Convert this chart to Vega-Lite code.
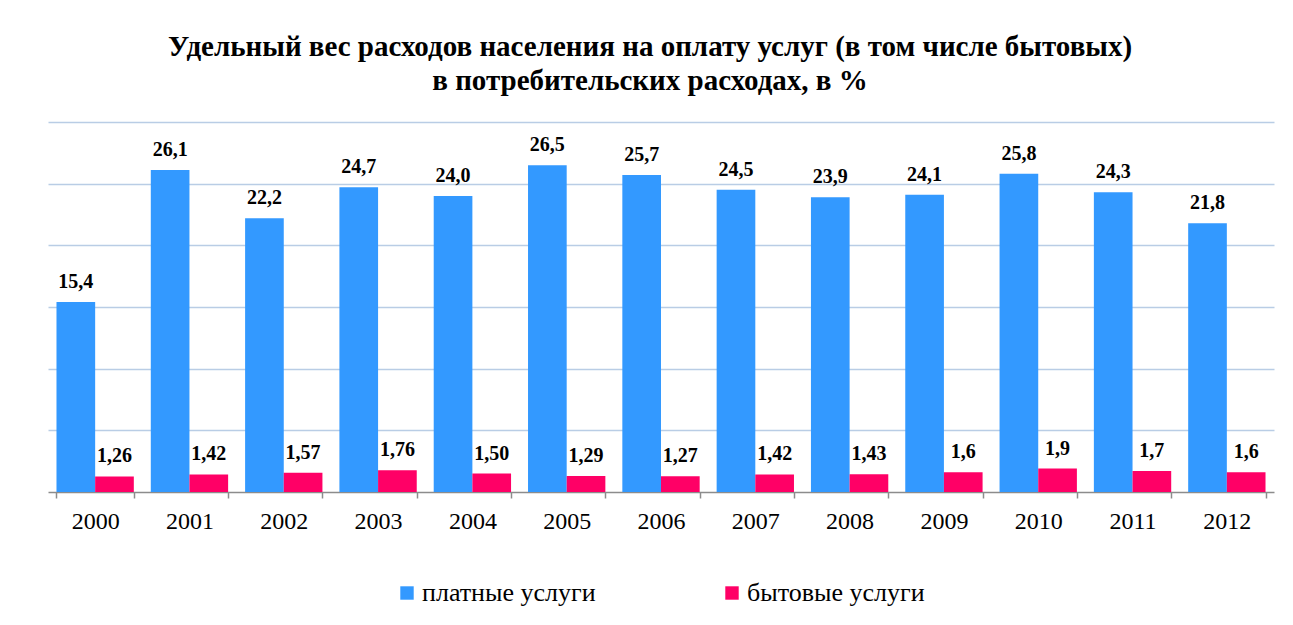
{
  "$schema": "https://vega.github.io/schema/vega-lite/v6.json",
  "width": 1226,
  "height": 370,
  "autosize": {"type": "none"},
  "padding": {"left": 48, "top": 122, "right": 19, "bottom": 133},
  "background": "white",
  "title": {
    "text": ["Удельный вес расходов населения на оплату услуг (в том числе бытовых)", "в потребительских расходах, в %"],
    "font": "Times New Roman",
    "fontSize": 29,
    "fontWeight": "bold",
    "color": "black",
    "anchor": "middle",
    "lineHeight": 34,
    "offset": 26,
    "dx": -11
  },
  "data": {
    "values": [
      {"year": "2000", "series": "платные услуги", "value": 15.4, "label": "15,4"},
      {"year": "2001", "series": "платные услуги", "value": 26.1, "label": "26,1"},
      {"year": "2002", "series": "платные услуги", "value": 22.2, "label": "22,2"},
      {"year": "2003", "series": "платные услуги", "value": 24.7, "label": "24,7"},
      {"year": "2004", "series": "платные услуги", "value": 24.0, "label": "24,0"},
      {"year": "2005", "series": "платные услуги", "value": 26.5, "label": "26,5"},
      {"year": "2006", "series": "платные услуги", "value": 25.7, "label": "25,7"},
      {"year": "2007", "series": "платные услуги", "value": 24.5, "label": "24,5"},
      {"year": "2008", "series": "платные услуги", "value": 23.9, "label": "23,9"},
      {"year": "2009", "series": "платные услуги", "value": 24.1, "label": "24,1"},
      {"year": "2010", "series": "платные услуги", "value": 25.8, "label": "25,8"},
      {"year": "2011", "series": "платные услуги", "value": 24.3, "label": "24,3"},
      {"year": "2012", "series": "платные услуги", "value": 21.8, "label": "21,8"},
      {"year": "2000", "series": "бытовые услуги", "value": 1.26, "label": "1,26"},
      {"year": "2001", "series": "бытовые услуги", "value": 1.42, "label": "1,42"},
      {"year": "2002", "series": "бытовые услуги", "value": 1.57, "label": "1,57"},
      {"year": "2003", "series": "бытовые услуги", "value": 1.76, "label": "1,76"},
      {"year": "2004", "series": "бытовые услуги", "value": 1.50, "label": "1,50"},
      {"year": "2005", "series": "бытовые услуги", "value": 1.29, "label": "1,29"},
      {"year": "2006", "series": "бытовые услуги", "value": 1.27, "label": "1,27"},
      {"year": "2007", "series": "бытовые услуги", "value": 1.42, "label": "1,42"},
      {"year": "2008", "series": "бытовые услуги", "value": 1.43, "label": "1,43"},
      {"year": "2009", "series": "бытовые услуги", "value": 1.6, "label": "1,6"},
      {"year": "2010", "series": "бытовые услуги", "value": 1.9, "label": "1,9"},
      {"year": "2011", "series": "бытовые услуги", "value": 1.7, "label": "1,7"},
      {"year": "2012", "series": "бытовые услуги", "value": 1.6, "label": "1,6"}
    ]
  },
  "encoding": {
    "x": {
      "field": "year",
      "type": "nominal",
      "scale": {"paddingInner": 0.18, "paddingOuter": 0.09},
      "axis": {
        "title": null,
        "labelAngle": 0,
        "labelFont": "Times New Roman",
        "labelFontSize": 24,
        "labelColor": "black",
        "labelPadding": 11,
        "domainColor": "#8c8c8c",
        "domainWidth": 1.5,
        "tickColor": "#8c8c8c",
        "tickWidth": 1.5,
        "tickSize": 6,
        "tickBand": "extent",
        "grid": false
      }
    },
    "xOffset": {"field": "series", "type": "nominal", "sort": ["платные услуги", "бытовые услуги"]},
    "y": {
      "field": "value",
      "type": "quantitative",
      "scale": {"domain": [0, 30]},
      "axis": {
        "title": null,
        "labels": false,
        "ticks": false,
        "domain": false,
        "values": [5, 10, 15, 20, 25, 30],
        "grid": true,
        "gridColor": "#b9cde5",
        "gridWidth": 1.5
      }
    }
  },
  "layer": [
    {
      "mark": {"type": "bar"},
      "encoding": {
        "color": {
          "field": "series",
          "type": "nominal",
          "sort": ["платные услуги", "бытовые услуги"],
          "scale": {"domain": ["платные услуги", "бытовые услуги"], "range": ["#3399ff", "#ff0066"]},
          "legend": {
            "title": null,
            "orient": "none",
            "legendX": 346,
            "legendY": 458,
            "direction": "horizontal",
            "symbolType": "square",
            "symbolSize": 180,
            "symbolStrokeWidth": 0,
            "symbolOpacity": 1,
            "labelFont": "Times New Roman",
            "labelFontSize": 26,
            "labelColor": "black",
            "labelOffset": 2,
            "labelLimit": 400,
            "columnPadding": 123
          }
        }
      }
    },
    {
      "mark": {"type": "text", "font": "Times New Roman", "fontSize": 20, "fontWeight": "bold", "color": "black", "baseline": "bottom", "dy": -10},
      "encoding": {"text": {"field": "label"}}
    }
  ],
  "config": {"view": {"stroke": null}}
}
